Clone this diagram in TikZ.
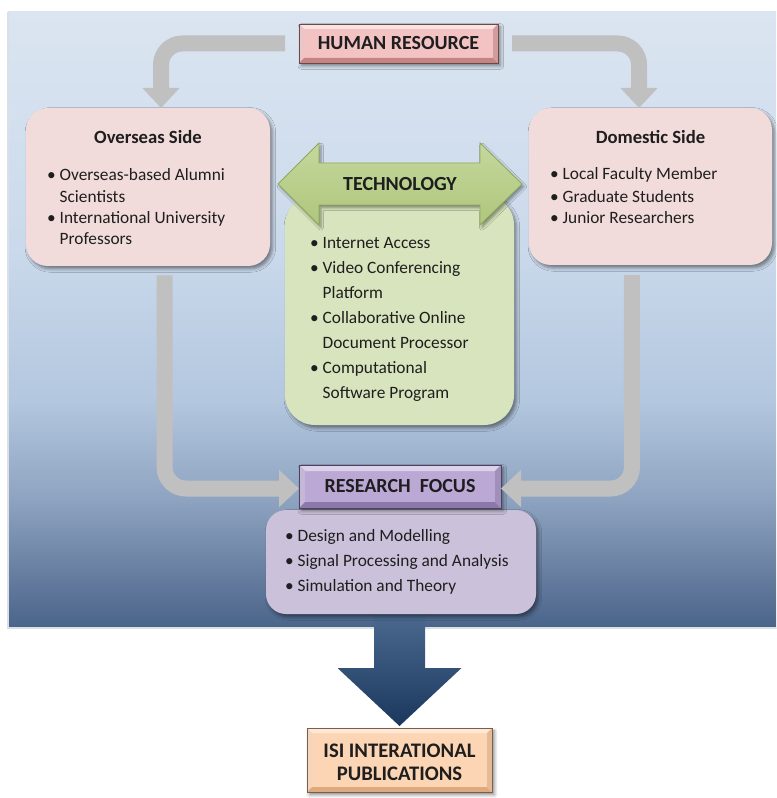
\documentclass[tikz,border=0pt]{standalone}
\usepackage{fontspec}
\setmainfont{Carlito}
\usetikzlibrary{arrows.meta,shadows.blur}

% palette
\definecolor{pE}{HTML}{DBE5F1}
\definecolor{pD}{HTML}{CAD9EB}
\definecolor{pC}{HTML}{B3C7DF}
\definecolor{pB}{HTML}{8EA3C0}
\definecolor{pA}{HTML}{4A6389}
\definecolor{ink}{HTML}{1E1E1E}
\definecolor{sidepink}{HTML}{F2DCDB}
\definecolor{techgreen}{HTML}{D7E4BD}
\definecolor{techtop}{HTML}{C4D89C}
\definecolor{techmid}{HTML}{EDF3DF}
\definecolor{techbot}{HTML}{AFC67C}
\definecolor{techedge}{HTML}{8FA85A}
\definecolor{rfpurple}{HTML}{CCC1DA}
\definecolor{arrowgray}{HTML}{C0C0C0}
\definecolor{hrface}{HTML}{F3C3C3}
\definecolor{hrlight}{HTML}{FBE3E3}
\definecolor{hrdark}{HTML}{C48484}
\definecolor{rfface}{HTML}{BCA8D5}
\definecolor{rflight}{HTML}{DDD2EC}
\definecolor{rfdark}{HTML}{8C79A9}
\definecolor{isiface}{HTML}{FCD5B5}
\definecolor{isilight}{HTML}{FEE9D8}
\definecolor{isidark}{HTML}{DDAA80}
\definecolor{navytop}{HTML}{4F6D93}
\definecolor{navybot}{HTML}{1B375E}

% background panel: pale blue at the top, slate blue at the bottom
\pgfdeclareverticalshading{panelshade}{100bp}{color(0bp)=(pA); color(25bp)=(pA);
  color(35.4bp)=(pB); color(43.5bp)=(pC); color(55.7bp)=(pD); color(75bp)=(pE); color(100bp)=(pE)}

\newcommand\bulletmark{\makebox[9.5pt][l]{\textbullet}}
\newcommand\bulletgap{\hspace*{9.5pt}}

% bevelled edge for a rectangular node: #1 node, #2 light, #3 dark, #4 inset (px)
\newcommand\bevelbox[4]{%
  \fill[#2] (#1.north west) -- (#1.north east) -- ([shift={(-#4,#4)}]#1.north east) -- ([shift={(#4,#4)}]#1.north west) -- cycle;
  \fill[#2!70!#3] (#1.north west) -- ([shift={(#4,#4)}]#1.north west) -- ([shift={(#4,-#4)}]#1.south west) -- (#1.south west) -- cycle;
  \fill[#3] (#1.south west) -- ([shift={(#4,-#4)}]#1.south west) -- ([shift={(-#4,-#4)}]#1.south east) -- (#1.south east) -- cycle;
  \fill[#3!75!#2] (#1.north east) -- (#1.south east) -- ([shift={(-#4,-#4)}]#1.south east) -- ([shift={(-#4,#4)}]#1.north east) -- cycle;
  \draw[#3!55!black, line width=0.7pt] (#1.north west) rectangle (#1.south east);
}

\begin{document}
\begin{tikzpicture}[x=0.75pt,y=-0.75pt,
  every node/.style={inner sep=0pt, outer sep=0pt, text=ink},
  softshadow/.style={blur shadow={shadow xshift=1.8pt, shadow yshift=-2.2pt, shadow blur radius=2.5pt, shadow opacity=45}},
  sidebox/.style={fill=sidepink, rounded corners=16.5pt, softshadow},
  headtxt/.style={font=\fontsize{14}{17}\selectfont\bfseries},
  captxt/.style={font=\fontsize{15}{18}\selectfont\bfseries},
  listtxt/.style={align=left, anchor=base west},
  grayarrow/.style={draw=arrowgray, line width=12pt, rounded corners=16pt,
    -{Triangle[width=27pt,length=15pt]}},
]
\path[use as bounding box] (0,0) rectangle (776,798);

% backdrop
\shade[shading=panelshade] (8,12) rectangle (776,628);
\draw[white!80!pA, line width=0.8pt] (8,12) -- (8,628) -- (776,628);

% technology block
\node[fill=techgreen, rounded corners=22.5pt, minimum width=171.75pt, minimum height=172.5pt, softshadow] (techbox) at (399.5,310) {};
\coordinate (techc) at (400,184);
\begin{scope}[shift={(techc)}]
  \shade[top color=techtop, middle color=techmid, bottom color=techbot, draw=techedge, line width=0.6pt,
         blur shadow={shadow xshift=1.5pt, shadow yshift=-2pt, shadow blur radius=2pt, shadow opacity=40}]
    (-122,0) -- (-81,-41) -- (-81,-21) -- (80,-21) -- (80,-41) -- (122,0)
    -- (80,41) -- (80,21) -- (-81,21) -- (-81,41) -- cycle;
\end{scope}
\node[captxt] (tech) at (techc) {TECHNOLOGY};
% the base anchor of these lists sits on their last line
\node[listtxt, font=\fontsize{13}{18.75}\selectfont] (techl) at (310,398)
  {\bulletmark Internet Access\\
   \bulletmark Video Conferencing\\\bulletgap Platform\\
   \bulletmark Collaborative Online\\\bulletgap Document Processor\\
   \bulletmark Computational\\\bulletgap Software Program};

% overseas side
\node[sidebox, minimum width=183pt, minimum height=118.5pt] (ovs) at (148,187) {};
\node[headtxt] (ovst) at (148,137) {Overseas Side};
\node[listtxt, font=\fontsize{13}{16}\selectfont] (ovsl) at (47,245)
  {\bulletmark Overseas-based Alumni\\\bulletgap Scientists\\
   \bulletmark International University\\\bulletgap Professors};

% domestic side
\node[sidebox, minimum width=182.25pt, minimum height=117.75pt] (dom) at (650.5,186.5) {};
\node[headtxt] (domt) at (650.5,137) {Domestic Side};
\node[listtxt, font=\fontsize{13}{16.5}\selectfont] (doml) at (550,224)
  {\bulletmark Local Faculty Member\\
   \bulletmark Graduate Students\\
   \bulletmark Junior Researchers};

% human resource
\node[fill=hrface, minimum width=149.25pt, minimum height=29.25pt, softshadow] (hr) at (398.5,43.5) {};
\bevelbox{hr}{hrlight}{hrdark}{5}
\node[captxt] (hrt) at (hr) {HUMAN RESOURCE};

% output arrow towards publications
\node[fill=isiface, minimum width=138.75pt, minimum height=48pt, softshadow] (isi) at (399.5,760) {};
\begin{scope}[shift={(isi.north)}]
  \shade[top color=navytop, bottom color=navybot]
    (-25.5,-123) -- (25.5,-123) -- (25.5,-60) -- (62,-60) -- (0,-2) -- (-62,-60) -- (-25.5,-60) -- cycle;
\end{scope}
\bevelbox{isi}{isilight}{isidark}{5}
\node[captxt, align=center, font=\fontsize{15.5}{17.25}\selectfont\bfseries] (isit) at ([yshift=-2pt]isi) {ISI INTERATIONAL\\PUBLICATIONS};

% research focus
\node[fill=rfpurple, rounded corners=15pt, minimum width=202.5pt, minimum height=78pt, softshadow] (rs) at (401,562) {};
\node[listtxt, font=\fontsize{13}{18.4}\selectfont] (rsl) at (285,591)
  {\bulletmark Design and Modelling\\
   \bulletmark Signal Processing and Analysis\\
   \bulletmark Simulation and Theory};
\node[fill=rfface, minimum width=151.5pt, minimum height=32.25pt, softshadow] (rf) at (400,486.5) {};
\bevelbox{rf}{rflight}{rfdark}{6}
\node[captxt] (rft) at (rf) {RESEARCH\ \ FOCUS};

% grey flow arrows
\draw[grayarrow] ([xshift=-10.5pt]hr.west) -| ([xshift=9.75pt]ovs.north);
\draw[grayarrow] ([xshift=10.5pt]hr.east) -| ([xshift=-8.6pt]dom.north);
\draw[grayarrow] ([xshift=12.4pt,yshift=-7pt]ovs.south) |- ([yshift=-1.5pt]rf.west);
\draw[grayarrow] ([xshift=-13.9pt,yshift=-7.5pt]dom.south) |- ([yshift=-1.5pt]rf.east);
\end{tikzpicture}
\end{document}
